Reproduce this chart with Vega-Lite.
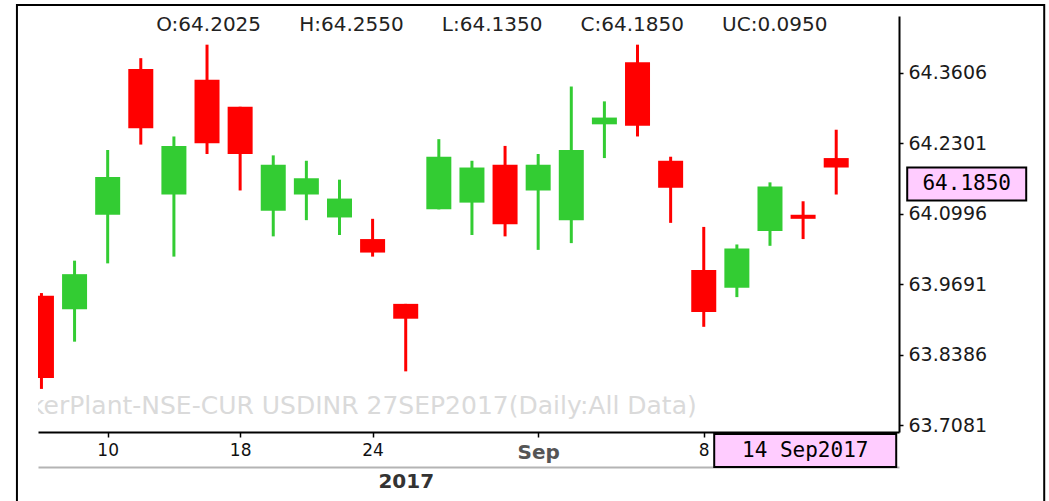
{
  "$schema": "https://vega.github.io/schema/vega-lite/v6.json",
  "width": 861,
  "height": 416,
  "autosize": {"type": "none"},
  "padding": {"left": 38, "top": 16, "right": 150, "bottom": 69},
  "background": "white",
  "data": {"values": [
    {"date": "2017-08-08", "open": 63.9475, "high": 63.9525, "low": 63.7750, "close": 63.7950},
    {"date": "2017-08-09", "open": 63.9225, "high": 64.0125, "low": 63.8625, "close": 63.9875},
    {"date": "2017-08-10", "open": 64.0975, "high": 64.2175, "low": 64.0075, "close": 64.1675},
    {"date": "2017-08-11", "open": 64.3675, "high": 64.3875, "low": 64.2275, "close": 64.2575},
    {"date": "2017-08-14", "open": 64.1350, "high": 64.2425, "low": 64.0200, "close": 64.2250},
    {"date": "2017-08-16", "open": 64.3475, "high": 64.4125, "low": 64.2100, "close": 64.2300},
    {"date": "2017-08-18", "open": 64.2975, "high": 64.2975, "low": 64.1425, "close": 64.2100},
    {"date": "2017-08-21", "open": 64.1050, "high": 64.2075, "low": 64.0575, "close": 64.1900},
    {"date": "2017-08-22", "open": 64.1350, "high": 64.1975, "low": 64.0875, "close": 64.1650},
    {"date": "2017-08-23", "open": 64.0925, "high": 64.1625, "low": 64.0600, "close": 64.1275},
    {"date": "2017-08-24", "open": 64.0525, "high": 64.0900, "low": 64.0200, "close": 64.0275},
    {"date": "2017-08-28", "open": 63.9325, "high": 63.9325, "low": 63.8075, "close": 63.9050},
    {"date": "2017-08-29", "open": 64.1075, "high": 64.2375, "low": 64.1075, "close": 64.2050},
    {"date": "2017-08-30", "open": 64.1200, "high": 64.1975, "low": 64.0600, "close": 64.1850},
    {"date": "2017-08-31", "open": 64.1900, "high": 64.2250, "low": 64.0575, "close": 64.0800},
    {"date": "2017-09-01", "open": 64.1425, "high": 64.2100, "low": 64.0325, "close": 64.1900},
    {"date": "2017-09-04", "open": 64.0875, "high": 64.3350, "low": 64.0450, "close": 64.2175},
    {"date": "2017-09-05", "open": 64.2650, "high": 64.3075, "low": 64.2025, "close": 64.2775},
    {"date": "2017-09-06", "open": 64.3800, "high": 64.4125, "low": 64.2425, "close": 64.2625},
    {"date": "2017-09-07", "open": 64.1975, "high": 64.2050, "low": 64.0825, "close": 64.1475},
    {"date": "2017-09-08", "open": 63.9950, "high": 64.0750, "low": 63.8900, "close": 63.9175},
    {"date": "2017-09-11", "open": 63.9625, "high": 64.0425, "low": 63.9450, "close": 64.0350},
    {"date": "2017-09-12", "open": 64.0675, "high": 64.1575, "low": 64.0400, "close": 64.1500},
    {"date": "2017-09-13", "open": 64.0975, "high": 64.1225, "low": 64.0525, "close": 64.0900},
    {"date": "2017-09-14", "open": 64.2025, "high": 64.2550, "low": 64.1350, "close": 64.1850}
  ]},
  "layer": [
    {
      "mark": {"type": "rule", "strokeWidth": 3, "clip": true},
      "encoding": {
        "x": {
          "field": "date", "type": "ordinal",
          "scale": {"type": "point", "padding": 1.02, "align": 0.052,
            "domain": ["2017-08-08","2017-08-09","2017-08-10","2017-08-11","2017-08-14","2017-08-16","2017-08-18","2017-08-21","2017-08-22","2017-08-23","2017-08-24","2017-08-28","2017-08-29","2017-08-30","2017-08-31","2017-09-01","2017-09-04","2017-09-05","2017-09-06","2017-09-07","2017-09-08","2017-09-11","2017-09-12","2017-09-13","2017-09-14"]},
          "axis": {
            "orient": "bottom",
            "values": ["2017-08-10", "2017-08-18", "2017-08-24", "2017-09-01", "2017-09-08"],
            "labelExpr": "datum.value == '2017-09-01' ? 'Sep' : '' + toNumber(slice(datum.value, 8))",
            "labelFontWeight": {"condition": {"test": "datum.value == '2017-09-01'", "value": "bold"}, "value": "normal"},
            "labelColor": {"condition": {"test": "datum.value == '2017-09-01'", "value": "#555555"}, "value": "#111111"},
            "labelFontSize": {"condition": {"test": "datum.value == '2017-09-01'", "value": 20}, "value": 17},
            "labelAngle": 0,
            "labelPadding": 5,
            "tickSize": 5,
            "tickWidth": 1.5,
            "domainWidth": 2
          }
        },
        "y": {
          "field": "low", "type": "quantitative",
          "scale": {"domain": [63.6952, 64.4656], "nice": false, "zero": false},
          "axis": {
            "orient": "right",
            "values": [63.7081, 63.8386, 63.9691, 64.0996, 64.2301, 64.3606],
            "format": ".4f",
            "tickSize": 4,
            "tickWidth": 1.5,
            "labelPadding": 5,
            "labelFontSize": 19,
            "domainWidth": 2
          }
        },
        "y2": {"field": "high"},
        "color": {"condition": {"test": "datum.close >= datum.open", "value": "#33CC33"}, "value": "#FF0000"}
      }
    },
    {
      "mark": {"type": "bar", "width": 25, "clip": true},
      "encoding": {
        "x": {
          "field": "date", "type": "ordinal",
          "axis": {
            "orient": "bottom",
            "values": ["2017-08-28"],
            "labelExpr": "'2017'",
            "offset": 35,
            "ticks": false,
            "tickSize": 0,
            "domainColor": "#b4b4b4",
            "domainWidth": 2,
            "labelFontWeight": "bold",
            "labelFontSize": 20,
            "labelColor": "#333333",
            "labelPadding": 4,
            "labelAngle": 0
          }
        },
        "y": {"field": "open", "type": "quantitative"},
        "y2": {"field": "close"},
        "color": {"condition": {"test": "datum.close >= datum.open", "value": "#33CC33"}, "value": "#FF0000"}
      }
    },
    {
      "data": {"values": [{"label": "TickerPlant-NSE-CUR USDINR 27SEP2017(Daily:All Data)"}]},
      "mark": {"type": "text", "align": "right", "baseline": "middle", "dx": -7, "fontSize": 25, "font": "DejaVu Sans", "color": "#dadada", "clip": true},
      "encoding": {
        "x": {"datum": "2017-09-08", "type": "ordinal", "axis": null},
        "y": {"datum": 63.7434, "type": "quantitative"},
        "text": {"field": "label"}
      }
    },
    {
      "data": {"values": [{"label": "O:64.2025\u00a0\u00a0\u00a0\u00a0\u00a0\u00a0H:64.2550\u00a0\u00a0\u00a0\u00a0\u00a0\u00a0L:64.1350\u00a0\u00a0\u00a0\u00a0\u00a0\u00a0C:64.1850\u00a0\u00a0\u00a0\u00a0\u00a0\u00a0UC:0.0950"}]},
      "mark": {"type": "text", "align": "center", "baseline": "middle", "dx": 53, "fontSize": 20, "font": "DejaVu Sans", "color": "#222222"},
      "encoding": {
        "x": {"datum": "2017-08-29", "type": "ordinal", "axis": null},
        "y": {"datum": 64.4489, "type": "quantitative"},
        "text": {"field": "label"}
      }
    },
    {
      "data": {"values": [{"price": 64.185}]},
      "mark": {"type": "rect", "fill": "#FFCCFF", "stroke": "#000000", "strokeWidth": 2, "xOffset": 71, "x2Offset": 190, "y2Offset": 33},
      "encoding": {
        "x": {"datum": "2017-09-14", "type": "ordinal", "axis": null},
        "x2": {"datum": "2017-09-14"},
        "y": {"field": "price", "type": "quantitative"},
        "y2": {"field": "price"}
      }
    },
    {
      "data": {"values": [{"price": 64.185, "label": "64.1850"}]},
      "mark": {"type": "text", "align": "center", "baseline": "middle", "dx": 130.5, "dy": 16.5, "fontSize": 21, "font": "DejaVu Sans Mono", "color": "#000000"},
      "encoding": {
        "x": {"datum": "2017-09-14", "type": "ordinal", "axis": null},
        "y": {"field": "price", "type": "quantitative"},
        "text": {"field": "label"}
      }
    },
    {
      "data": {"values": [{"label": "14 Sep2017"}]},
      "mark": {"type": "rect", "fill": "#FFCCFF", "stroke": "#000000", "strokeWidth": 2, "xOffset": -122, "x2Offset": 60, "yOffset": 2, "y2Offset": 35},
      "encoding": {
        "x": {"datum": "2017-09-14", "type": "ordinal", "axis": null},
        "x2": {"datum": "2017-09-14"},
        "y": {"datum": 63.6952, "type": "quantitative"},
        "y2": {"datum": 63.6952}
      }
    },
    {
      "data": {"values": [{"label": "14 Sep2017"}]},
      "mark": {"type": "text", "align": "center", "baseline": "middle", "dx": -31, "dy": 19, "fontSize": 21, "font": "DejaVu Sans Mono", "color": "#000000"},
      "encoding": {
        "x": {"datum": "2017-09-14", "type": "ordinal", "axis": null},
        "y": {"datum": 63.6952, "type": "quantitative"},
        "text": {"field": "label"}
      }
    },
    {
      "data": {"values": [{}]},
      "mark": {"type": "rule", "color": "#000000", "strokeWidth": 2, "xOffset": -24.5, "x2Offset": 208, "yOffset": -11},
      "encoding": {
        "x": {"datum": "2017-08-08", "type": "ordinal", "axis": null},
        "x2": {"datum": "2017-09-14"},
        "y": {"datum": 64.4656, "type": "quantitative"}
      }
    },
    {
      "data": {"values": [{}]},
      "mark": {"type": "rule", "color": "#000000", "strokeWidth": 2, "xOffset": -24.5, "yOffset": -12, "y2Offset": 80},
      "encoding": {
        "x": {"datum": "2017-08-08", "type": "ordinal", "axis": null},
        "y": {"datum": 64.4656, "type": "quantitative"},
        "y2": {"datum": 63.6952}
      }
    },
    {
      "data": {"values": [{}]},
      "mark": {"type": "rule", "color": "#000000", "strokeWidth": 2, "xOffset": 208, "yOffset": -12, "y2Offset": 80},
      "encoding": {
        "x": {"datum": "2017-09-14", "type": "ordinal", "axis": null},
        "y": {"datum": 64.4656, "type": "quantitative"},
        "y2": {"datum": 63.6952}
      }
    }
  ],
  "resolve": {"axis": {"x": "independent"}},
  "config": {
    "view": {"stroke": null},
    "font": "DejaVu Sans",
    "axis": {
      "title": null,
      "grid": false,
      "domainColor": "#000000",
      "tickColor": "#000000",
      "labelColor": "#1a1a1a",
      "labelFont": "DejaVu Sans"
    }
  }
}
